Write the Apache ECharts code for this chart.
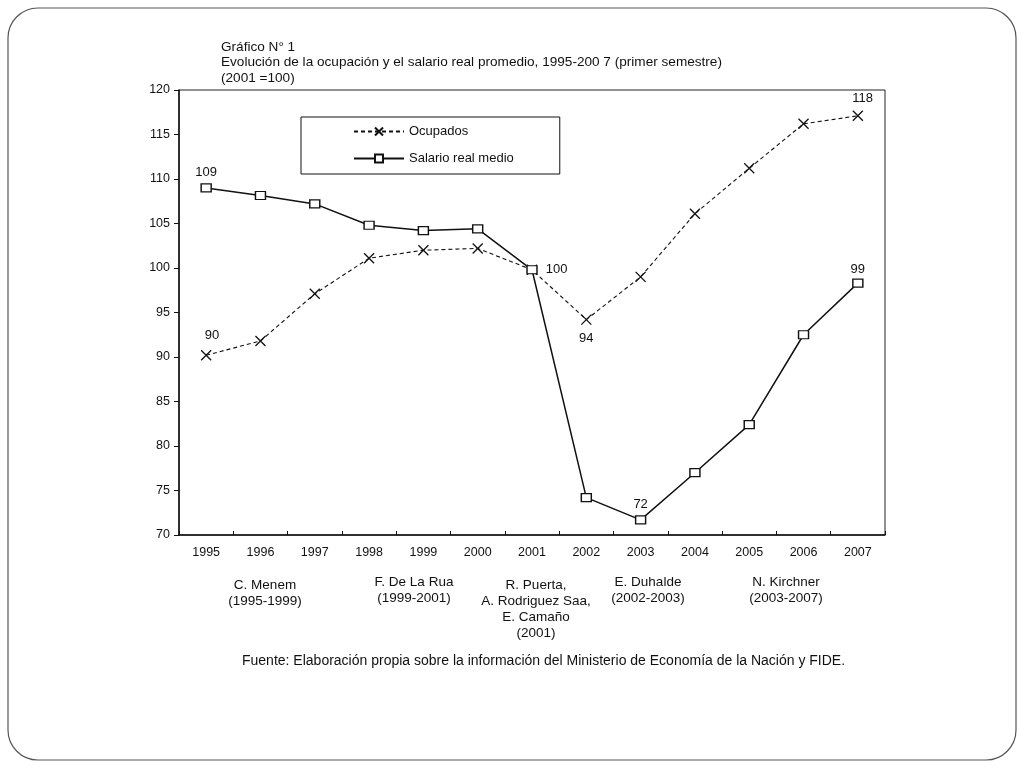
<!DOCTYPE html>
<html><head><meta charset="utf-8">
<script src="https://cdn.jsdelivr.net/npm/echarts@6/dist/echarts.min.js"></script>
<style>html,body{margin:0;padding:0;background:#fff}#c{width:1024px;height:768px}</style>
</head><body><div id="c"></div>
<script>
const years = ['1995','1996','1997','1998','1999','2000','2001','2002','2003','2004','2005','2006','2007'];
const ocupados = [90.2, 91.8, 97.1, 101.1, 102.0, 102.2, 99.8, 94.2, 99.0, 106.1, 111.2, 116.2, 117.1];
const salario = [109.0, 108.15, 107.2, 104.8, 104.2, 104.4, 99.8, 74.2, 71.7, 77.0, 82.4, 92.5, 98.3];
const ocupadosLabels = ['90','','','','','','','94','','','','','118'];
const salarioLabels = ['109','','','','','','100','','72','','','','99'];
const titleLines = ['Gráfico N° 1','Evolución de la ocupación y el salario real promedio, 1995-200 7 (primer semestre)','(2001 =100)'];
const presidents = [
  {text: 'C. Menem\n(1995-1999)', x: 265, y: 577},
  {text: 'F. De La Rua\n(1999-2001)', x: 414, y: 574},
  {text: 'R. Puerta,\nA. Rodriguez Saa,\nE. Camaño\n(2001)', x: 536, y: 577},
  {text: 'E. Duhalde\n(2002-2003)', x: 648, y: 574},
  {text: 'N. Kirchner\n(2003-2007)', x: 786, y: 574}
];
const source = 'Fuente: Elaboración propia sobre la información del Ministerio de Economía de la Nación y FIDE.';

const FONT = '"Liberation Sans", Arial, sans-serif';
const chart = echarts.init(document.getElementById('c'));
const xSym = 'path://M0,0L10,10M10,0L0,10';

const ocuPos = {0: {position: [6, -19]}, 7: {position: 'bottom', distance: 5}, 12: {position: [2, -16]}};
const salPos = {0: {position: 'top', distance: 4}, 6: {position: 'right', distance: 8}, 8: {position: 'top', distance: 4}, 12: {position: 'top', distance: 3}};

chart.setOption({
  backgroundColor: '#fff',
  animation: false,
  textStyle: {fontFamily: FONT},
  title: {
    text: titleLines.join('\n'),
    left: 216, top: 34,
    textStyle: {fontSize: 13.6, fontWeight: 'normal', color: '#111', lineHeight: 15.5, fontFamily: FONT}
  },
  legend: {
    left: 301, top: 117,
    orient: 'vertical',
    itemWidth: 50, itemHeight: 10, itemGap: 14,
    padding: [8, 46, 9, 52],
    borderColor: '#111', borderWidth: 1,
    textStyle: {fontSize: 13, color: '#111', fontFamily: FONT},
    data: ['Ocupados', 'Salario real medio']
  },
  grid: {left: 179, top: 90, right: 139, bottom: 233, show: true, borderColor: '#222', borderWidth: 1},
  xAxis: {
    type: 'category', data: years, boundaryGap: true,
    axisLine: {lineStyle: {color: '#111', width: 1.5}},
    axisTick: {show: true, inside: true, length: 4, interval: 0, lineStyle: {color: '#111'}},
    axisLabel: {fontSize: 12.5, color: '#111', margin: 11, interval: 0, fontFamily: FONT},
    splitLine: {show: false}
  },
  yAxis: {
    type: 'value', min: 70, max: 120, interval: 5,
    axisLine: {show: true, lineStyle: {color: '#111', width: 1.5}},
    axisTick: {show: true, length: 5, lineStyle: {color: '#111'}},
    axisLabel: {fontSize: 12.5, color: '#111', margin: 9, fontFamily: FONT},
    splitLine: {show: false}
  },
  series: [
    {
      name: 'Ocupados', type: 'line', data: ocupados.map((v, i) => ({
        value: v,
        label: Object.assign({show: ocupadosLabels[i] !== '', formatter: ocupadosLabels[i]}, ocuPos[i] || {})
      })),
      symbol: xSym, symbolSize: 10,
      itemStyle: {color: 'none', borderColor: '#111', borderWidth: 1.3},
      lineStyle: {color: '#111', width: 1.1, type: [4, 3]},
      label: {fontSize: 13, color: '#111', fontFamily: FONT},
      z: 2
    },
    {
      name: 'Salario real medio', type: 'line', data: salario.map((v, i) => ({
        value: v,
        label: Object.assign({show: salarioLabels[i] !== '', formatter: salarioLabels[i]}, salPos[i] || {})
      })),
      symbol: 'rect', symbolSize: [10, 8],
      itemStyle: {color: '#fff', borderColor: '#111', borderWidth: 1.3},
      lineStyle: {color: '#111', width: 1.5},
      label: {fontSize: 13, color: '#111', fontFamily: FONT},
      z: 3
    }
  ],
  graphic: [
    {type: 'rect', shape: {x: 8, y: 8, width: 1008, height: 752, r: 30},
      style: {fill: 'none', stroke: '#555', lineWidth: 1.2}, silent: true, z: -1}
  ].concat(presidents.map(p => ({
    type: 'text', x: p.x, y: p.y,
    style: {text: p.text, fill: '#111', font: '13.5px ' + FONT, textAlign: 'center', lineHeight: 16}
  }))).concat([{
    type: 'text', x: 242, y: 654,
    style: {text: source, fill: '#111', font: '14px ' + FONT}
  }])
});
</script></body></html>
